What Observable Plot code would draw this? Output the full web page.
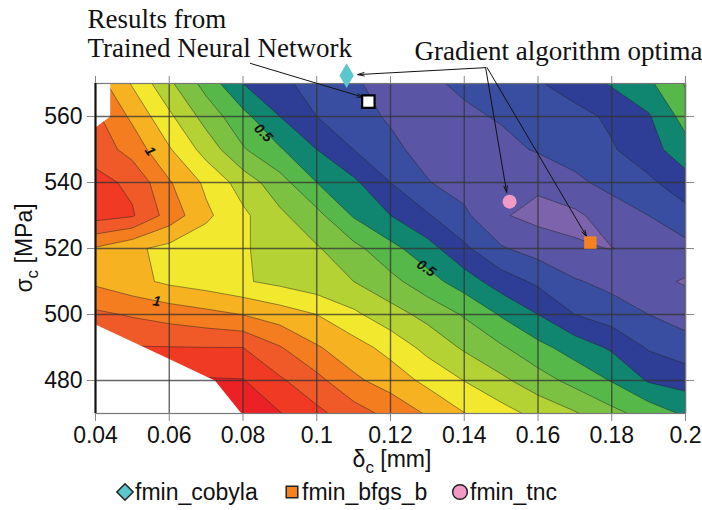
<!DOCTYPE html>
<html><head><meta charset="utf-8">
<script src="https://cdn.jsdelivr.net/npm/d3@7"></script>
<script src="https://cdn.jsdelivr.net/npm/@observablehq/plot@0.6"></script>
<style>
body{margin:0;background:#fff;}
#chart svg{display:block;}
</style>
</head><body><div id="chart"></div>
<script>
// grid columns (delta_c, mm) and rows (sigma_c, MPa), top row first
const deltaC = [0.04,0.05,0.06,0.07,0.08,0.09,0.10,0.11,0.12,0.13,0.14,0.15,0.16,0.17,0.18,0.19,0.20];
const sigmaC = [570,560,550,540,530,520,510,500,490,480,470];
const z570 = [1.05,0.89,0.72,0.563,0.40,0.323,0.262,0.21,0.17,0.18,0.22,0.255,0.29,0.35,0.41,0.48,0.61];
const z560 = [1.12,0.98,0.82,0.66,0.53,0.40,0.30,0.23,0.19,0.16,0.18,0.21,0.24,0.265,0.32,0.39,0.54];
const z550 = [1.16,1.06,0.91,0.76,0.61,0.51,0.40,0.30,0.22,0.17,0.15,0.17,0.21,0.24,0.29,0.36,0.46];
const z540 = [1.23,1.18,1.01,0.88,0.755,0.64,0.50,0.42,0.30,0.205,0.16,0.13,0.12,0.18,0.23,0.28,0.36];
const z530 = [1.24,1.21,1.06,0.92,0.82,0.72,0.63,0.49,0.40,0.31,0.22,0.11,0.07,0.08,0.15,0.20,0.265];
const z520 = [0.99,0.92,0.87,0.836,0.81,0.76,0.71,0.63,0.53,0.44,0.32,0.21,0.16,0.11,0.098,0.12,0.17];
const z510 = [0.98,0.93,0.88,0.85,0.81,0.775,0.735,0.70,0.63,0.54,0.45,0.35,0.28,0.21,0.17,0.13,0.09];
const z500 = [1.12,1.09,1.06,1.03,0.998,0.95,0.90,0.82,0.74,0.67,0.59,0.49,0.40,0.30,0.25,0.20,0.16];
const z490 = [1.2,1.205,1.203,1.201,1.2,1.107,1.01,0.942,0.865,0.77,0.686,0.613,0.529,0.456,0.385,0.29,0.24];
const z480 = [1.25,1.28,1.30,1.31,1.305,1.215,1.13,1.02,0.957,0.874,0.798,0.722,0.644,0.567,0.494,0.39,0.36];
const z470 = [1.30,1.35,1.38,1.40,1.386,1.305,1.225,1.146,1.07,0.99,0.903,0.84,0.77,0.71,0.63,0.56,0.484];

// where the sweep has no result (> 0.5 = missing), columns 0.04 … 0.09
const maskCols = [0.04,0.05,0.06,0.07,0.08,0.09];
const n570 = [1.5,-1,-1,-1,-1,-1];
const n560 = [0.83,0,0,0,0,0];
const n550 = [-0.17,0,0,0,0,0];
const n540 = [0,0,0,0,0,0];
const n530 = [0,0,0,0,0,0];
const n520 = [0,0,0,0,0,0];
const n510 = [0,0,0,0,0,0];
const n500 = [0.2,-0.325,-0.85,0,0,0];
const n490 = [1.2,0.675,0.15,-0.375,0,0];
const n480 = [2.2,1.675,1.15,0.625,0.1,0];
const n470 = [3.2,2.675,2.15,1.625,0.45,0];

const levels = [0,0.1,0.2,0.3,0.4,0.5,0.6,0.7,0.8,0.9,1.0,1.1,1.2,1.3];
const bandColors = ["#7C63AC","#5A55A4","#3A4EA1","#2E3E97","#10856F","#56B848","#7CC142","#B4D234","#F2E92F","#F6B220","#F47D20","#F05A28","#F03A24","#EB2126"];

const xTicks = [0.04,0.06,0.08,0.1,0.12,0.14,0.16,0.18,0.2];
const yTicks = [480,500,520,540,560];

const contourLabels = [
  {x:0.0548, y:549.5, text:"1", rotate:55},
  {x:0.0566, y:504.0, text:"1", rotate:8},
  {x:0.0855, y:555.0, text:"0.5", rotate:45},
  {x:0.1297, y:514.0, text:"0.5", rotate:35}
];

// optimisation results (markers)
const resultNN = [{x:0.1140, y:564.5}];
const resultCobyla = [{x:0.1081, y:572.4}];
const resultBfgs = [{x:0.1742, y:521.8}];
const resultTnc = [{x:0.1523, y:534.2}];

// annotation arrows (data units)
const arrows = [
  {x1:0.0820, y1:576.1, x2:0.1127, y2:565.8},
  {x1:0.1458, y1:574.8, x2:0.1111, y2:572.7},
  {x1:0.1458, y1:574.8, x2:0.1515, y2:537.0},
  {x1:0.1462, y1:574.8, x2:0.1732, y2:523.6}
];

const grid = [z570,z560,z550,z540,z530,z520,z510,z500,z490,z480,z470].flat();
const mask = [n570,n560,n550,n540,n530,n520,n510,n500,n490,n480,n470].flat();

const fmt = d => String(+d.toFixed(2));
const FONT = "Liberation Sans, Arial, sans-serif";
const SERIF = "Liberation Serif, Times New Roman, serif";

const plot = Plot.plot({
  width: 702, height: 510,
  marginTop: 83, marginBottom: 97, marginLeft: 95, marginRight: 17,
  style: {fontFamily: FONT, background: "#fff", overflow: "visible"},
  x: {domain: [0.04, 0.2]},
  y: {domain: [470, 570]},
  color: {type: "threshold", domain: [0.05,0.15,0.25,0.35,0.45,0.55,0.65,0.75,0.85,0.95,1.05,1.15,1.25], range: bandColors},
  marks: [
    Plot.contour(grid, {
      x1: 0.035, x2: 0.205, y1: 575, y2: 465, width: deltaC.length, height: sigmaC.length,
      value: Plot.identity,
      thresholds: levels, fill: "value", stroke: "#222", strokeWidth: 0.6, strokeOpacity: 0.8, clip: true
    }),
    Plot.contour(mask, {
      x1: 0.035, x2: 0.095, y1: 575, y2: 465, width: maskCols.length, height: sigmaC.length,
      value: Plot.identity, thresholds: [0.5], fill: "#fff", stroke: "none", clip: true
    }),
    Plot.text(contourLabels, {x: "x", y: "y", text: "text", rotate: "rotate", fontSize: 14, fontWeight: "bold", fontStyle: "italic", fill: "#111"}),
    Plot.ruleX(xTicks, {stroke: "#333", strokeOpacity: 0.75, strokeWidth: 1.4}),
    Plot.ruleY(yTicks, {stroke: "#333", strokeOpacity: 0.75, strokeWidth: 1.4}),
    Plot.frame({stroke: "#777", strokeWidth: 1.2}),
    Plot.axisX({anchor: "bottom", ticks: xTicks, tickFormat: fmt, tickSize: 8, tickPadding: 5, fontSize: 23, stroke: "#888", fill: "#111", label: null}),
    Plot.axisX({anchor: "top", ticks: xTicks, tickFormat: () => "", tickSize: 8, stroke: "#888", label: null}),
    Plot.axisY({anchor: "left", ticks: yTicks, tickSize: 8, tickPadding: 5, fontSize: 23, stroke: "#888", fill: "#111", label: null}),
    Plot.axisY({anchor: "right", ticks: yTicks, tickFormat: () => "", tickSize: 8, stroke: "#888", label: null}),
    Plot.ruleX([0.04], {stroke: "#111", strokeWidth: 2}),
    Plot.arrow(arrows, {x1: "x1", y1: "y1", x2: "x2", y2: "y2", stroke: "#111", strokeWidth: 1, headLength: 10, headAngle: 30, clip: false}),
    Plot.dot(resultNN, {x: "x", y: "y", symbol: "square", r: 7, fill: "#fff", stroke: "#000", strokeWidth: 2.2}),
    Plot.dot(resultCobyla, {x: "x", y: "y", symbol: "diamond", r: 7.5, fill: "#5CC6CE"}),
    Plot.dot(resultBfgs, {x: "x", y: "y", symbol: "square", r: 7, fill: "#F58220"}),
    Plot.dot(resultTnc, {x: "x", y: "y", symbol: "circle", r: 7, fill: "#F19AC6"}),
    Plot.text(["Results from\nTrained Neural Network"], {frameAnchor: "top-left", dx: -8, dy: -77, textAnchor: "start", lineAnchor: "top", lineHeight: 1.1, fontSize: 27, fontFamily: SERIF, fill: "#111"}),
    Plot.text(["Gradient algorithm optima"], {frameAnchor: "top-left", dx: 319, dy: -43, textAnchor: "start", lineAnchor: "top", fontSize: 27, fontFamily: SERIF, fill: "#111"})
  ]
});

const svg = d3.select(plot);
// axis titles with subscripts
const xl = svg.append("text").attr("x", 392).attr("y", 467).attr("text-anchor", "middle")
  .attr("font-size", 23).attr("font-family", FONT).attr("fill", "#111");
xl.append("tspan").text("δ");
xl.append("tspan").attr("dy", 6).attr("font-size", 17).text("c");
xl.append("tspan").attr("dy", -6).text(" [mm]");
const yl = svg.append("text").attr("transform", "translate(32,248) rotate(-90)").attr("text-anchor", "middle")
  .attr("font-size", 23).attr("font-family", FONT).attr("fill", "#111");
yl.append("tspan").text("σ");
yl.append("tspan").attr("dy", 6).attr("font-size", 17).text("c");
yl.append("tspan").attr("dy", -6).text(" [MPa]");

// legend
const legendItems = [
  {name: "fmin_cobyla", symbol: d3.symbolDiamond2, color: "#5CC6CE", x: 125},
  {name: "fmin_bfgs_b", symbol: d3.symbolSquare2, color: "#F58220", x: 292},
  {name: "fmin_tnc", symbol: d3.symbolCircle, color: "#F19AC6", x: 460}
];
const lg = svg.append("g").attr("font-family", FONT).attr("font-size", 23).attr("fill", "#111").attr("text-anchor", "start");
legendItems.forEach(it => {
  lg.append("path").attr("d", d3.symbol(it.symbol, 170)()).attr("transform", `translate(${it.x},492)`)
    .attr("fill", it.color).attr("stroke", "#222").attr("stroke-width", 1.5);
  lg.append("text").attr("x", it.x + 10).attr("y", 500).text(it.name);
});

document.getElementById("chart").appendChild(plot);
</script>
</body></html>
